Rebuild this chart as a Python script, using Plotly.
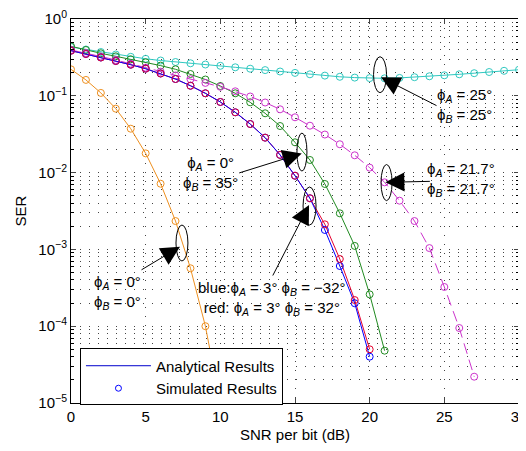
import plotly.graph_objects as go

# ---------------- data ----------------
snr_00 = list(range(0, 11))
ser_00 = [0.221, 0.161, 0.109, 0.068, 0.0373, 0.0178, 0.00716, 0.00234, 5.68e-4, 1.0e-4, 9.8e-6]

snr_25 = list(range(0, 31))
ser_25 = [0.4318, 0.4008, 0.3718, 0.3449, 0.3220, 0.3032, 0.2882, 0.2755, 0.2650, 0.2556,
          0.2458, 0.2350, 0.2254, 0.2161, 0.2072, 0.1987, 0.1905, 0.1832, 0.1768, 0.1726,
          0.1700, 0.1690, 0.1710, 0.1747, 0.1795, 0.1849, 0.1905, 0.1969, 0.2041, 0.2116,
          0.2187]

snr_035 = list(range(0, 22))
ser_035 = [0.4410, 0.3948, 0.3575, 0.3268, 0.2987, 0.2730, 0.2473, 0.2214, 0.1922, 0.1630,
           0.1341, 0.1078, 0.0823, 0.0592, 0.0404, 0.0248, 0.0146, 0.00711, 0.00295, 0.00111,
           2.60e-4, 4.80e-5]

snr_332 = list(range(0, 21))
ser_red = [0.3866, 0.3501, 0.3152, 0.2838, 0.2541, 0.2254, 0.1952, 0.1655, 0.1353, 0.1078,
           0.0831, 0.0610, 0.0429, 0.0285, 0.0170, 0.00911, 0.00463, 0.00212, 7.50e-4, 2.19e-4,
           5.00e-5]
ser_blue = [0.3866, 0.3501, 0.3152, 0.2838, 0.2541, 0.2254, 0.1952, 0.1655, 0.1353, 0.1078,
            0.0831, 0.0610, 0.0429, 0.0285, 0.0170, 0.00911, 0.00463, 0.00179, 6.08e-4, 1.99e-4,
            4.01e-5]

snr_217 = list(range(0, 28))
ser_217 = [0.3948, 0.3608, 0.3248, 0.2924, 0.2618, 0.2322, 0.2059, 0.1837, 0.1645, 0.1472,
           0.1310, 0.1144, 0.0979, 0.0818, 0.0667, 0.0525, 0.0408, 0.0313, 0.0234, 0.0168,
           0.0116, 0.00747, 0.00431, 0.00234, 0.00104, 3.24e-4, 9.47e-5, 2.20e-5]

x_ticks = [0, 5, 10, 15, 20, 25, 30]
y_tickvals = [1, 1e-1, 1e-2, 1e-3, 1e-4, 1e-5]
y_ticktext = ["10<sup>0</sup>", "10<sup>−1</sup>", "10<sup>−2</sup>", "10<sup>−3</sup>",
              "10<sup>−4</sup>", "10<sup>−5</sup>"]
y_minor = [m * 10.0 ** e for e in range(-5, 0) for m in range(2, 10)]

FONT = "Liberation Sans, Arial, Helvetica, sans-serif"
ORANGE = "#ee9020"
CYAN = "#30c8c0"
GREEN = "#208a20"
RED = "#e6002e"
BLUE = "#0000ff"
MAGENTA = "#cc33cc"

fig = go.Figure()

def add(x, y, color, mode="lines+markers", dash="solid"):
    fig.add_trace(go.Scatter(
        x=x, y=y, mode=mode, showlegend=False,
        line=dict(color=color, width=1, dash=dash),
        marker=dict(symbol="circle-open", size=7, color=color, line=dict(width=1, color=color)),
    ))

add(snr_00, ser_00, ORANGE)
add(snr_25, ser_25, CYAN)
add(snr_035, ser_035, GREEN)
add(snr_217, ser_217, MAGENTA, dash="11px,6px")
add(snr_332, ser_red, RED, mode="lines")
add(snr_332, ser_blue, BLUE)
add(snr_332, ser_red, RED, mode="markers")

# legend entries
fig.add_trace(go.Scatter(x=[None], y=[None], mode="lines", name="Analytical Results",
                         line=dict(color="#0000cc", width=1)))
fig.add_trace(go.Scatter(x=[None], y=[None], mode="markers", name="Simulated Results",
                         marker=dict(symbol="circle-open", size=6, color=BLUE,
                                     line=dict(width=1, color=BLUE))))

# ellipses (x in data, y in paper fraction)
ellipses = [
    (7.03, 7.83, 0.3698, 0.4635),
    (15.13, 15.80, 0.604, 0.703),
    (15.54, 16.41, 0.4635, 0.5625),
    (20.26, 21.13, 0.8081, 0.9018),
    (20.76, 21.50, 0.527, 0.621),
]
for x0, x1, y0, y1 in ellipses:
    fig.add_shape(type="circle", xref="x", yref="paper", x0=x0, x1=x1, y0=y0, y1=y1,
                  line=dict(color="black", width=1))

# arrows (tip in data-x / paper-y, tail offset in pixels)
arrows = [
    (7.30, 0.407, -40, 24),
    (15.45, 0.650, -64, 20),
    (15.94, 0.5156, -37, 72),
    (20.76, 0.848, 57, 29),
    (21.05, 0.5747, 46, -1),
]
for x, y, ax, ay in arrows:
    fig.add_annotation(x=x, y=y, xref="x", yref="paper", text="", showarrow=True,
                       ax=ax, ay=ay, axref="pixel", ayref="pixel",
                       arrowhead=2, arrowsize=3.8, arrowwidth=1, arrowcolor="black",
                       standoff=0, startstandoff=0)

PA = "ϕ<sub><i>A</i></sub>"
PB = "ϕ<sub><i>B</i></sub>"
labels = [
    (3.11, 0.288, f"{PA} = 0°<br>{PB} = 0°"),
    (9.34, 0.597, f"{PA} = 0°<br>{PB} = 35°"),
    (13.43, 0.271, f"blue:{PA} = 3° {PB} = −32°<br>red: {PA} = 3° {PB} = 32°"),
    (26.34, 0.776, f"{PA} = 25°<br>{PB} = 25°"),
    (26.12, 0.581, f"{PA} = 21.7°<br>{PB} = 21.7°"),
]
for x, y, t in labels:
    fig.add_annotation(x=x, y=y, xref="x", yref="paper", text=t, showarrow=False,
                       xanchor="center", yanchor="middle", align="center",
                       font=dict(family=FONT, size=15, color="black"))

grid = dict(gridcolor="#444444", gridwidth=1, griddash="1px,8px")

fig.update_xaxes(range=[0, 30], tickvals=x_ticks, ticks="inside", ticklen=5,
                 showline=True, linecolor="black", linewidth=1, mirror="ticks",
                 showgrid=True, zeroline=False, automargin=False,
                 ticklabeloverflow="allow",
                 tickfont=dict(family=FONT, size=15, color="black"),
                 title=dict(text="SNR per bit (dB)", standoff=6,
                            font=dict(family=FONT, size=15, color="black")),
                 **grid)
fig.update_yaxes(type="log", range=[-5, 0], tickvals=y_tickvals, ticktext=y_ticktext,
                 ticks="inside", ticklen=5,
                 showline=True, linecolor="black", linewidth=1, mirror="ticks",
                 showgrid=True, zeroline=False, automargin=False,
                 ticklabeloverflow="allow",
                 tickfont=dict(family=FONT, size=15, color="black"),
                 title=dict(text="SER", standoff=8,
                            font=dict(family=FONT, size=15, color="black")),
                 minor=dict(tickvals=y_minor, ticks="inside", ticklen=3, tickcolor="black",
                            showgrid=True, **grid),
                 **grid)

# the page adds an 8px body margin, so the figure is sized/offset to compensate
fig.update_layout(
    width=518, height=435,
    margin=dict(l=63, r=7, t=11, b=40, autoexpand=False),
    paper_bgcolor="white", plot_bgcolor="white",
    font=dict(family=FONT, size=15, color="black"),
    legend=dict(x=0.02, y=0.142, xanchor="left", yanchor="top",
                bgcolor="white", bordercolor="black", borderwidth=1,
                itemwidth=65, font=dict(family=FONT, size=15, color="black"),
                tracegroupgap=0),
)

fig.write_html("out.html")
